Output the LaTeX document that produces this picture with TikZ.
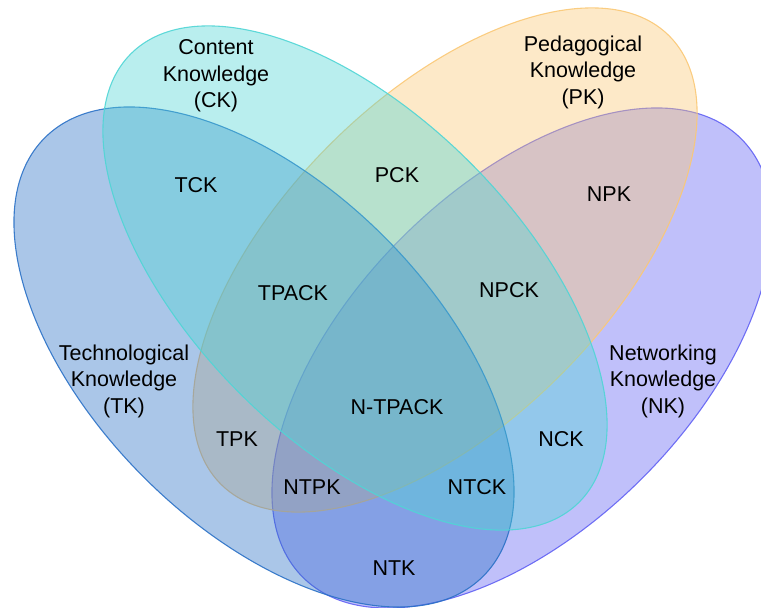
\documentclass[tikz,border=0pt]{standalone}
\usepackage{fontspec}
\setmainfont{Liberation Sans}
\definecolor{nkc}{RGB}{98,98,243}
\definecolor{pkc}{RGB}{250,200,118}
\definecolor{tkc}{RGB}{43,113,198}
\definecolor{ckc}{RGB}{80,213,213}
\tikzset{
  setfill/.style={fill=#1, fill opacity=0.4, draw=#1, draw opacity=0.9, line width=1.1pt},
  lab/.style={font=\fontsize{21.5}{26.5}\selectfont, align=center, inner sep=0pt, text=black}
}
\begin{document}
\begin{tikzpicture}[x=1pt,y=-1pt]
\useasboundingbox (0,0) rectangle (761,608);
% ellipses (drawing order: NK, PK, TK, CK)
\path[setfill=nkc, rotate around={45:(522,358)}] (522,358) ellipse [x radius=310pt, y radius=170pt];
\path[setfill=pkc, rotate around={45:(445,260)}] (445,260) ellipse [x radius=317pt, y radius=163pt];
\path[setfill=tkc, rotate around={-45:(264,357)}] (264,357) ellipse [x radius=310pt, y radius=170pt];
\path[setfill=ckc, rotate around={-45:(355,278)}] (355,278) ellipse [x radius=317pt, y radius=163pt];
% set labels
\node[lab] (ck) at (216,76) {Content\\Knowledge\\(CK)};
\node[lab] (pk) at (583,72) {Pedagogical\\Knowledge\\(PK)};
\node[lab] (tk) at (124,381) {Technological\\Knowledge\\(TK)};
\node[lab] (nk) at (663,381) {Networking\\Knowledge\\(NK)};
% region labels
\node[lab] (tck) at (196,185) {TCK};
\node[lab] (pck) at (397,175) {PCK};
\node[lab] (npk) at (609,194) {NPK};
\node[lab] (tpack) at (293,293) {TPACK};
\node[lab] (npck) at (509,290) {NPCK};
\node[lab] (ntpack) at (397,407) {N-TPACK};
\node[lab] (tpk) at (237,439) {TPK};
\node[lab] (nck) at (561,439) {NCK};
\node[lab] (ntpk) at (312,487) {NTPK};
\node[lab] (ntck) at (477,487) {NTCK};
\node[lab] (ntk) at (394,568) {NTK};
\end{tikzpicture}
\end{document}
